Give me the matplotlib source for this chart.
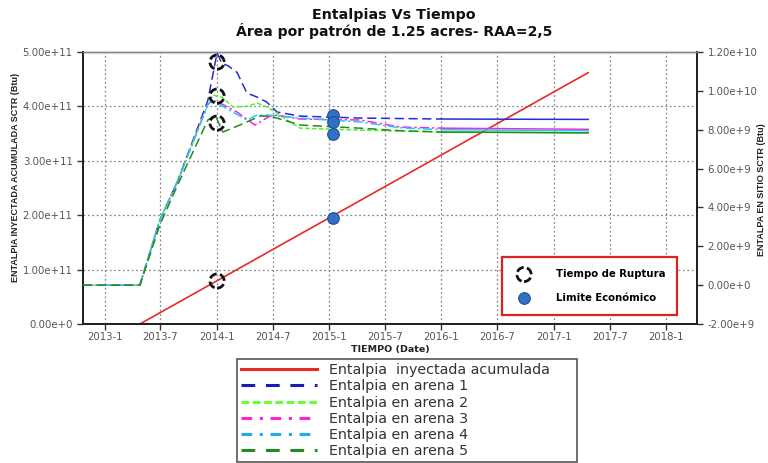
import matplotlib
matplotlib.use("Agg")
import matplotlib.pyplot as plt
from matplotlib.lines import Line2D
import numpy as np
import pandas as pd

plt.rcParams['font.family'] = ['DejaVu Sans']

# ---------------- data ----------------
title_lines = ["Entalpias Vs Tiempo", "Área por patrón de 1.25 acres- RAA=2,5"]
xlim_dates = ["2012-10-22", "2018-04-11"]
tick_dates = ["2013-01-01", "2013-07-01", "2014-01-01", "2014-07-01", "2015-01-01",
              "2015-07-01", "2016-01-01", "2016-07-01", "2017-01-01", "2017-07-01", "2018-01-01"]
tick_labels = ["2013-1", "2013-7", "2014-1", "2014-7", "2015-1", "2015-7",
               "2016-1", "2016-7", "2017-1", "2017-7", "2018-1"]

# Red: accumulated injected enthalpy (left axis, Btu)
iny_dates = ["2012-10-22", "2013-04-25", "2017-04-22"]
iny_vals = [0.0, 0.0, 4.62e11]

# Enthalpy in place per sand (right axis, Btu)
a1_dates = ["2012-10-22", "2013-04-25", "2013-06-29", "2013-08-27", "2013-12-02", "2014-01-01",
            "2014-01-17", "2014-02-05", "2014-03-07", "2014-04-08", "2014-05-11", "2014-06-12",
            "2014-07-15", "2014-09-28", "2015-04-11", "2016-01-01", "2017-04-22"]
a1_vals = [0, 0, 3.35e9, 5.4e9, 9.5e9, 11.95e9, 11.4e9, 11.3e9, 10.95e9, 9.89e9, 9.68e9,
           9.42e9, 8.91e9, 8.70e9, 8.60e9, 8.55e9, 8.53e9]

a2_dates = ["2012-10-22", "2013-04-25", "2013-06-29", "2013-08-27", "2013-12-02", "2013-12-19",
            "2014-01-17", "2014-02-22", "2014-04-08", "2014-05-11", "2014-06-12", "2014-07-15",
            "2014-08-26", "2014-09-28", "2015-04-11", "2016-01-01", "2017-04-22"]
a2_vals = [0, 0, 3.35e9, 5.4e9, 9.3e9, 9.78e9, 9.68e9, 9.17e9, 9.2e9, 9.37e9, 9.17e9, 8.86e9,
           8.4e9, 8.08e9, 7.98e9, 7.88e9, 7.84e9]

a3_dates = ["2012-10-22", "2013-04-25", "2013-06-29", "2013-08-27", "2013-12-02", "2013-12-19",
            "2014-01-17", "2014-03-07", "2014-05-04", "2014-06-22", "2014-07-15", "2014-09-28",
            "2015-04-11", "2015-08-19", "2016-01-01", "2017-04-22"]
a3_vals = [0, 0, 3.35e9, 5.4e9, 9.3e9, 9.53e9, 9.32e9, 8.91e9, 8.24e9, 8.7e9, 8.75e9, 8.55e9,
           8.5e9, 8.14e9, 8.08e9, 8.02e9]

a4_dates = ["2012-10-22", "2013-04-25", "2013-06-29", "2013-08-27", "2013-12-02", "2013-12-19",
            "2014-01-01", "2014-04-08", "2014-05-11", "2014-06-22", "2014-09-28", "2015-04-11",
            "2015-08-19", "2016-01-01", "2017-04-22"]
a4_vals = [0, 0, 3.35e9, 5.4e9, 9.3e9, 9.53e9, 9.37e9, 8.5e9, 8.75e9, 8.75e9, 8.6e9, 8.4e9,
           8.1e9, 8.0e9, 7.95e9]

a5_dates = ["2012-10-22", "2013-04-25", "2013-06-29", "2013-08-27", "2013-12-02", "2013-12-26",
            "2014-01-20", "2014-03-16", "2014-05-21", "2014-06-22", "2014-08-26", "2014-09-28",
            "2015-04-11", "2015-08-19", "2016-01-01", "2017-04-22"]
a5_vals = [0, 0, 3.1e9, 5.2e9, 8.5e9, 8.75e9, 7.88e9, 8.24e9, 8.7e9, 8.7e9, 8.4e9, 8.24e9,
           8.08e9, 7.95e9, 7.88e9, 7.84e9]

series_labels = ["Entalpia  inyectada acumulada", "Entalpia en arena 1", "Entalpia en arena 2",
                 "Entalpia en arena 3", "Entalpia en arena 4", "Entalpia en arena 5"]

# Breakthrough time (circles) and economic limit (dots)
ruptura_date = "2014-01-01"
ruptura_left = [0.79e11]
ruptura_right = [11.48e9, 9.73e9, 8.34e9]
limite_date = "2015-01-13"
limite_left = [1.95e11]
limite_right = [8.75e9, 8.39e9, 7.78e9]

left_ticks = [0, 1e11, 2e11, 3e11, 4e11, 5e11]
right_ticks = [-2e9, 0, 2e9, 4e9, 6e9, 8e9, 1e10, 1.2e10]

# ---------------- styling ----------------
W, H = 768, 463
fig = plt.figure(figsize=(W / 100, H / 100), dpi=100)
ax = fig.add_axes([83 / W, 1 - 324 / H, (697 - 83) / W, (324 - 52) / H])
ax2 = ax.twinx()

def d(lst):
    return pd.to_datetime(lst)

tail_start = pd.Timestamp("2016-01-01")

ax.plot(d(iny_dates), iny_vals, color="#e82a24", lw=1.2, zorder=3)

styles = [
    ("#2a2ad8", (0, (6, 3))),
    ("#55ee33", (0, (3, 1.5))),
    ("#ff22dd", (0, (6, 2, 1.5, 2))),
    ("#22ccee", (0, (6, 2, 1.5, 2))),
    ("#228b22", (0, (6, 3))),
]
arenas = [(a1_dates, a1_vals), (a2_dates, a2_vals), (a3_dates, a3_vals),
          (a4_dates, a4_vals), (a5_dates, a5_vals)]
for (dates, vals), (c, ls) in zip(arenas, styles):
    dd = d(dates)
    vv = np.array(vals, dtype=float)
    m = dd <= tail_start
    ax2.plot(dd[m], vv[m], color=c, lw=1.1, ls=ls, zorder=3)
    m2 = dd >= tail_start
    ax2.plot(dd[m2], vv[m2], color=c, lw=1.1, ls="-", zorder=3)

ring_kw = dict(s=105, facecolors="none", edgecolors="#111111", linewidths=2.0,
               linestyles=(0, (2.9, 1.2)), zorder=6)
dot_kw = dict(s=70, color="#3170c4", edgecolors="#1f4f95", linewidths=0.8, zorder=6)

ax.scatter(d([ruptura_date] * len(ruptura_left)), ruptura_left, **ring_kw)
ax2.scatter(d([ruptura_date] * len(ruptura_right)), ruptura_right, **ring_kw)
ax.scatter(d([limite_date] * len(limite_left)), limite_left, **dot_kw)
ax2.scatter(d([limite_date] * len(limite_right)), limite_right, **dot_kw)

# axes
ax.set_xlim(d(xlim_dates))
ax.set_ylim(0, 5e11)
ax2.set_ylim(-2e9, 1.2e10)
ax.set_xticks(d(tick_dates))
ax.set_xticklabels(tick_labels)

def sci(v):
    if v == 0:
        return "0.00e+0"
    e = int(np.floor(np.log10(abs(v))))
    m = v / 10 ** e
    return f"{m:.2f}e+{e}"

ax.set_yticks(left_ticks)
ax.set_yticklabels([sci(v) for v in left_ticks])
ax2.set_yticks(right_ticks)
ax2.set_yticklabels([sci(v) for v in right_ticks])

tick_color = "#555555"
for a in (ax, ax2):
    a.tick_params(axis="both", labelsize=7.3, labelcolor=tick_color, color="#333333",
                  length=4, width=1)
ax.tick_params(axis="x", pad=2)

ax.grid(True, which="major", ls=(0, (1.5, 2)), color="#888888", lw=0.9)
ax.set_axisbelow(True)

for a in (ax, ax2):
    a.spines["top"].set_color("#888888")
    a.spines["top"].set_linewidth(1.0)
    for s in ("left", "right", "bottom"):
        a.spines[s].set_color("#222222")
        a.spines[s].set_linewidth(1.4)

ax.set_xlabel("TIEMPO (Date)", fontsize=6.8, fontweight="bold", color="#222222", labelpad=2)

lab_font = dict(family=["Liberation Sans", "DejaVu Sans"], size=6.5, weight="bold")
fig.text(16 / W, 1 - 177 / H, "ENTALPIA INYECTADA ACUMULADA SCTR (Btu)", rotation=90,
         ha="center", va="center", color="#222222", fontdict=lab_font)
fig.text(762 / W, 1 - 190 / H, "ENTALPA EN SITIO SCTR (Btu)", rotation=90,
         ha="center", va="center", color="#222222", fontdict=lab_font)

fig.text(394 / W, 1 - 15 / H, title_lines[0], ha="center", va="center",
         fontsize=10.3, fontweight="bold", color="#111111")
fig.text(394 / W, 1 - 31 / H, title_lines[1], ha="center", va="center",
         fontsize=10.1, fontweight="bold", color="#111111")

# inner legend
h_ring = ax.scatter([], [], **ring_kw)
h_dot = ax.scatter([], [], **dot_kw)
leg1 = ax.legend([h_ring, h_dot], ["Tiempo de Ruptura", "Limite Económico"],
                 loc="lower left", bbox_to_anchor=(0.682, 0.033, 0.285, 0.21), mode="expand",
                 prop=dict(size=7.3, weight="bold"), frameon=True, fancybox=False,
                 edgecolor="#dd2222", framealpha=1, labelspacing=1.35, handletextpad=2.2,
                 borderpad=1.2, borderaxespad=0, scatterpoints=1, handlelength=2.0)
leg1.get_frame().set_linewidth(1.6)
leg1.set_zorder(10)

# main legend (below)
leg_handles = [Line2D([], [], color="#e82a24", lw=2.2)]
leg_styles = [
    ("#1a1ab8", (0, (4.5, 3.5))),
    ("#66ff33", (0, (2.5, 1.2))),
    ("#ff22dd", (0, (3.5, 2.5, 1, 2.5))),
    ("#22aaee", (0, (3.5, 2.5, 1, 2.5))),
    ("#228b22", (0, (4.5, 3.5))),
]
for c, ls in leg_styles:
    leg_handles.append(Line2D([], [], color=c, lw=2.2, ls=ls))
top = 1 - 359 / H
leg2 = fig.legend(leg_handles, series_labels, loc="upper left",
                  bbox_to_anchor=(237 / W, top - 0.3, 340 / W, 0.3), mode="expand",
                  prop=dict(size=10.3), frameon=True, fancybox=False, edgecolor="#555555",
                  framealpha=1, handlelength=5.3, handletextpad=0.8, labelspacing=0.15,
                  borderpad=0.3, borderaxespad=0)
leg2.get_frame().set_linewidth(1.2)
for t in leg2.get_texts():
    t.set_color("#333333")

fig.savefig("out.png", dpi=100)
